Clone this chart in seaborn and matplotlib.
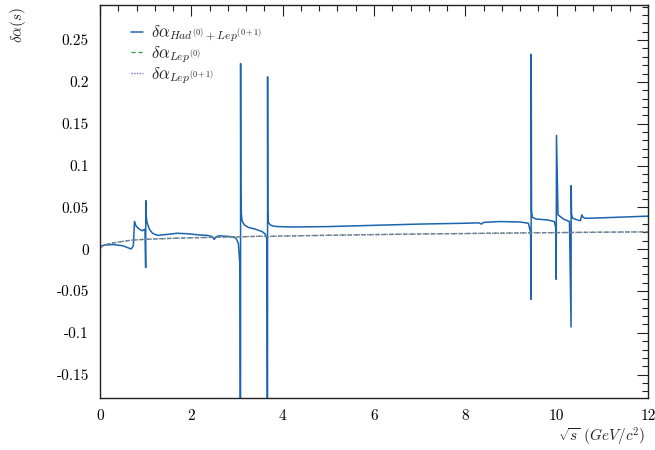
import matplotlib
matplotlib.use("Agg")
import matplotlib.pyplot as plt
import seaborn as sns
import pandas as pd
from matplotlib.ticker import MultipleLocator, FuncFormatter

# ---- data ----
x_had = [0.0, 0.1, 0.3, 0.5, 0.6, 0.68, 0.73, 0.755, 0.77, 0.80, 0.86, 0.93, 0.985, 1.0, 1.003,
         1.01, 1.03, 1.08, 1.15, 1.26, 1.45, 1.69, 1.9, 2.17, 2.35, 2.46, 2.5, 2.55, 2.61, 2.75,
         2.9, 2.98, 3.03, 3.065, 3.077, 3.079, 3.083, 3.09, 3.11, 3.16, 3.25, 3.40, 3.55, 3.62,
         3.655, 3.668, 3.670, 3.674, 3.68, 3.70, 3.73, 3.8, 3.9, 4.2, 5.0, 6.0, 7.0, 8.0, 8.3,
         8.35, 8.4, 8.75, 9.2, 9.38, 9.43, 9.440, 9.442, 9.45, 9.47, 9.55, 9.8, 9.95, 9.987,
         9.990, 9.996, 10.03, 10.15, 10.28, 10.315, 10.318, 10.325, 10.35, 10.45, 10.52, 10.55,
         10.58, 10.62, 10.7, 11.0, 11.5, 12.0]
y_had = [0.003, 0.005, 0.0055, 0.004, 0.002, 0.0002, 0.004, 0.033, 0.030, 0.027, 0.024, 0.022, 0.024, -0.022, 0.058,
         0.040, 0.032, 0.024, 0.019, 0.0165, 0.0175, 0.019, 0.0185, 0.017, 0.0165, 0.015, 0.0117, 0.015, 0.016, 0.0155,
         0.0148, 0.013, 0.007, -0.02, -0.4, 0.222, 0.067, 0.045, 0.034, 0.029, 0.026, 0.024, 0.021, 0.018,
         0.012, -0.4, 0.206, 0.045, 0.033, 0.031, 0.029, 0.0275, 0.027, 0.0265, 0.027, 0.0285, 0.030, 0.031, 0.0315,
         0.030, 0.032, 0.033, 0.0325, 0.031, 0.020, -0.060, 0.233, 0.045, 0.038, 0.036, 0.035, 0.033, 0.024,
         -0.036, 0.136, 0.041, 0.036, 0.033, -0.093, 0.076, 0.042, 0.037, 0.035, 0.034, 0.041,
         0.038, 0.037, 0.037, 0.0375, 0.0385, 0.0395]

x_lep = [0.0, 0.02, 0.05, 0.1, 0.2, 0.35, 0.5, 0.7, 1.0, 1.5, 2.0, 2.5, 2.9, 3.05, 3.1, 3.2, 3.6,
         3.68, 3.75, 4.0, 5.0, 6.0, 7.0, 8.0, 9.0, 10.0, 11.0, 12.0]
y_lep0 = [0.0, 0.002, 0.0035, 0.005, 0.0065, 0.008, 0.0093, 0.0108, 0.0118, 0.0128, 0.0136, 0.0142, 0.0147, 0.0148,
          0.0145, 0.0150, 0.0155, 0.0150, 0.0154, 0.0157, 0.0166, 0.0174, 0.0181, 0.0187, 0.0193, 0.0198, 0.0203, 0.0207]
y_lep01 = [0.0, 0.002, 0.0035, 0.005, 0.0065, 0.008, 0.0093, 0.0108, 0.0118, 0.0128, 0.0136, 0.0142, 0.0147, 0.0148,
           0.0146, 0.0150, 0.0155, 0.0151, 0.0154, 0.0157, 0.0166, 0.0174, 0.0181, 0.0187, 0.0193, 0.0198, 0.0203, 0.0207]

labels = [r'$\delta\alpha_{Had^{(0)}+Lep^{(0+1)}}$', r'$\delta\alpha_{Lep^{(0)}}$', r'$\delta\alpha_{Lep^{(0+1)}}$']
x_ticks = [0, 2, 4, 6, 8, 10, 12]
y_ticks = [-0.15, -0.1, -0.05, 0, 0.05, 0.1, 0.15, 0.2, 0.25]

sns.set_style("white")
plt.rcParams['mathtext.fontset'] = 'cm'
plt.rcParams['axes.unicode_minus'] = False
plt.rcParams['axes.formatter.use_mathtext'] = True

fig = plt.figure(figsize=(6.55, 4.5), dpi=100)
ax = fig.add_axes([100 / 655, 52 / 450, 548 / 655, 393 / 450])

df_had = pd.DataFrame({"x": x_had, "y": y_had})
df_l0 = pd.DataFrame({"x": x_lep, "y": y_lep0})
df_l1 = pd.DataFrame({"x": x_lep, "y": y_lep01})

sns.lineplot(data=df_had, x="x", y="y", ax=ax, color="#1a64b0", lw=1.1, estimator=None, sort=False, label=labels[0])
sns.lineplot(data=df_l0, x="x", y="y", ax=ax, color="#3aa63a", lw=1.0, ls=(0, (3, 2)), estimator=None, sort=False, label=labels[1])
sns.lineplot(data=df_l1, x="x", y="y", ax=ax, color="#8a62d0", lw=1.0, ls=(0, (1, 1)), estimator=None, sort=False, label=labels[2])

ax.set_xlim(0, 12)
ax.set_ylim(-0.178, 0.292)
ax.set_xticks(x_ticks)
ax.set_yticks(y_ticks)
ax.xaxis.set_minor_locator(MultipleLocator(0.4))
ax.yaxis.set_minor_locator(MultipleLocator(0.01))
fmt = FuncFormatter(lambda v, p: ('%g' % round(v, 4)))
ax.xaxis.set_major_formatter(fmt)
ax.yaxis.set_major_formatter(fmt)
ax.tick_params(which='both', direction='in', top=True, right=True, colors='#222222', labelcolor='black')
ax.tick_params(which='major', length=8, width=0.8, labelsize=11, pad=8)
ax.tick_params(which='minor', length=4, width=0.8)
for lab in ax.get_xticklabels() + ax.get_yticklabels():
    lab.set_fontfamily('cmr10')
for s in ax.spines.values():
    s.set_color('#222222')
    s.set_linewidth(1.0)
ax.set_xlabel('')
ax.set_ylabel('')

leg = ax.legend(loc='upper left', bbox_to_anchor=(0.045, 0.97), frameon=False, fontsize=12,
                handlelength=0.7, handletextpad=0.5, labelspacing=0.0, borderaxespad=0)

fig.text(0.028, 0.985, r'$\delta\alpha(s)$', rotation=90, ha='center', va='top', fontsize=11)
fig.text(0.985, 1 - 437 / 450, r'$\sqrt{s}\ (GeV/c^2)$', ha='right', va='center', fontsize=11)

fig.savefig("out.png", dpi=100)
